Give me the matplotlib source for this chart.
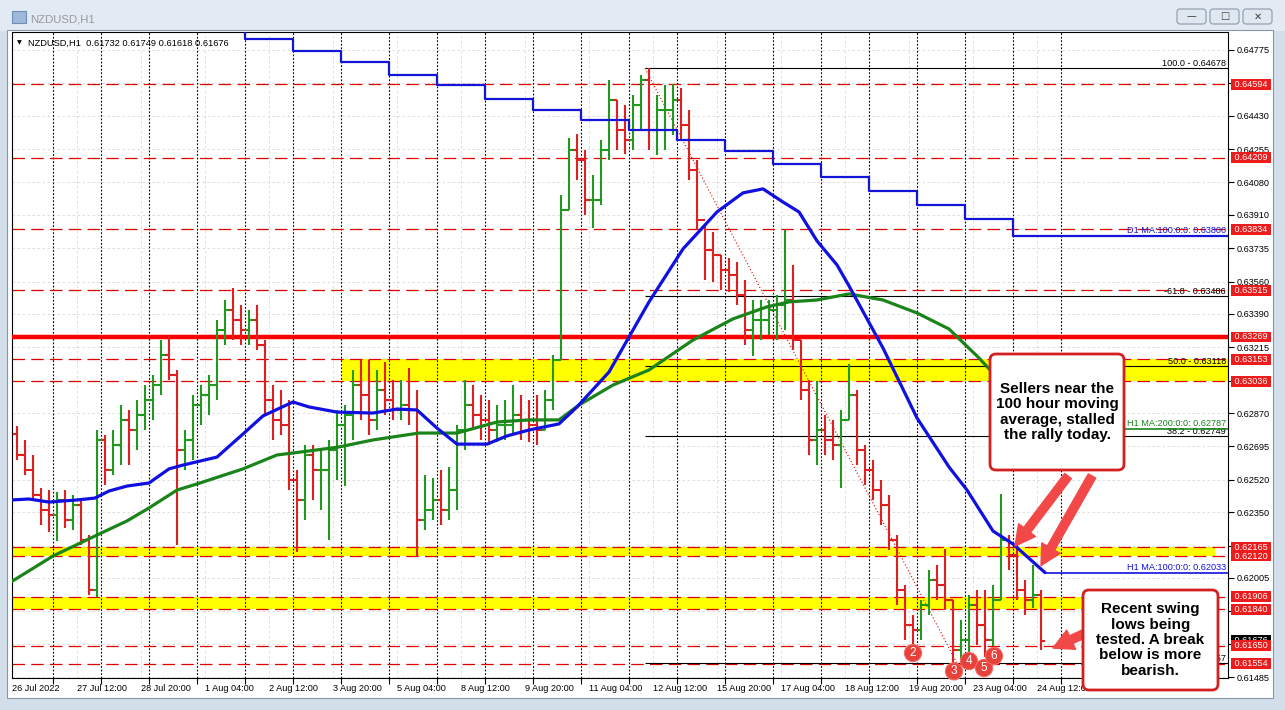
import numpy as np
import matplotlib
matplotlib.use("Agg")
import matplotlib.pyplot as plt
import matplotlib.transforms as mtransforms
from matplotlib.patches import FancyBboxPatch, Rectangle
from matplotlib.collections import LineCollection

plt.rcParams['font.family'] = ['Liberation Sans', 'DejaVu Sans']

# ---------------- data ----------------
# time axis: trading hours counted from 26 Jul 2022 00:00 (weekends skipped)
symbol_title = "NZDUSD,H1"
last_bar = [0.61732, 0.61749, 0.61618, 0.61676]

bar_start_hours = list(range(4, 520, 4))          # 4-hour bars
first_open = 0.62760
highs = [0.62802, 0.62729, 0.62650, 0.62477, 0.62466, 0.62456, 0.62466, 0.62440, 0.62414, 0.62230,
         0.62781, 0.62755, 0.62781, 0.62912, 0.62886, 0.62939, 0.63017, 0.63070, 0.63253, 0.63275,
         0.63096, 0.62781, 0.62965, 0.63017, 0.63070, 0.63358, 0.63463, 0.63526, 0.63437, 0.63411,
         0.63437, 0.63253, 0.63017, 0.62991, 0.62939, 0.62571, 0.62702, 0.62702, 0.62676, 0.62729,
         0.62886, 0.62912, 0.63096, 0.63148, 0.63148, 0.63096, 0.63138, 0.63043, 0.63043, 0.63106,
         0.62991, 0.62545, 0.62529, 0.62571, 0.62587, 0.62807, 0.63043, 0.63017, 0.62965, 0.62939,
         0.62912, 0.62939, 0.63017, 0.62965, 0.62939, 0.62965, 0.62991, 0.63175, 0.64014, 0.64313,
         0.64334, 0.64250, 0.64119, 0.64303, 0.64618, 0.64513, 0.64486, 0.64539, 0.64644, 0.64678,
         0.64539, 0.64591, 0.64597, 0.64576, 0.64460, 0.64198, 0.63857, 0.63820, 0.63699, 0.63684,
         0.63663, 0.63568, 0.63463, 0.63463, 0.63463, 0.63490, 0.63831, 0.63647, 0.63253, 0.63043,
         0.63038, 0.62860, 0.62834, 0.62886, 0.63127, 0.62991, 0.62702, 0.62624, 0.62519, 0.62440,
         0.62230, 0.61968, 0.61810, 0.61889, 0.62047, 0.62073, 0.62157, 0.61889, 0.61784, 0.61915,
         0.61942, 0.61942, 0.61968, 0.62445, 0.62230, 0.62204, 0.61994, 0.62073, 0.61942]
lows = [0.62624, 0.62545, 0.62414, 0.62283, 0.62246, 0.62199, 0.62267, 0.62257, 0.62178, 0.61915,
        0.61905, 0.62493, 0.62545, 0.62597, 0.62597, 0.62676, 0.62781, 0.62834, 0.62965, 0.63043,
        0.62178, 0.62571, 0.62624, 0.62807, 0.62860, 0.62939, 0.63227, 0.63253, 0.63227, 0.63227,
        0.63201, 0.62860, 0.62729, 0.62755, 0.62466, 0.62141, 0.62309, 0.62414, 0.62361, 0.62204,
        0.62519, 0.62487, 0.62729, 0.62834, 0.62755, 0.62781, 0.62860, 0.62834, 0.62834, 0.62807,
        0.62120, 0.62257, 0.62309, 0.62283, 0.62309, 0.62361, 0.62676, 0.62781, 0.62729, 0.62702,
        0.62718, 0.62729, 0.62755, 0.62729, 0.62718, 0.62702, 0.62781, 0.62886, 0.63148, 0.63935,
        0.64093, 0.63909, 0.63841, 0.63962, 0.64198, 0.64250, 0.64229, 0.64250, 0.64355, 0.64250,
        0.64224, 0.64250, 0.64329, 0.64303, 0.64093, 0.63831, 0.63568, 0.63558, 0.63516, 0.63505,
        0.63437, 0.63227, 0.63169, 0.63253, 0.63280, 0.63253, 0.63306, 0.63201, 0.62939, 0.62650,
        0.62597, 0.62650, 0.62624, 0.62477, 0.62834, 0.62597, 0.62493, 0.62414, 0.62283, 0.62152,
        0.61863, 0.61679, 0.61653, 0.61679, 0.61810, 0.61889, 0.61837, 0.61557, 0.61575, 0.61595,
        0.61653, 0.61590, 0.61648, 0.61889, 0.62047, 0.61889, 0.61810, 0.61847, 0.61627]
closes = [0.62650, 0.62571, 0.62440, 0.62361, 0.62335, 0.62414, 0.62309, 0.62388, 0.62204, 0.61942,
          0.62729, 0.62571, 0.62702, 0.62834, 0.62781, 0.62860, 0.62939, 0.63017, 0.63175, 0.63070,
          0.62676, 0.62729, 0.62912, 0.62965, 0.63017, 0.63306, 0.63411, 0.63358, 0.63306, 0.63358,
          0.63227, 0.62939, 0.62834, 0.62807, 0.62519, 0.62414, 0.62650, 0.62571, 0.62571, 0.62676,
          0.62807, 0.62860, 0.63017, 0.62965, 0.62834, 0.62991, 0.62939, 0.62886, 0.62912, 0.62886,
          0.62309, 0.62361, 0.62414, 0.62361, 0.62466, 0.62781, 0.62912, 0.62860, 0.62834, 0.62781,
          0.62807, 0.62807, 0.62860, 0.62834, 0.62807, 0.62781, 0.62939, 0.63148, 0.63935, 0.64250,
          0.64198, 0.63988, 0.63988, 0.64250, 0.64513, 0.64355, 0.64303, 0.64486, 0.64618, 0.64355,
          0.64460, 0.64460, 0.64513, 0.64381, 0.64145, 0.63883, 0.63726, 0.63699, 0.63621, 0.63594,
          0.63490, 0.63306, 0.63358, 0.63358, 0.63411, 0.63437, 0.63463, 0.63253, 0.62991, 0.62729,
          0.62781, 0.62729, 0.62702, 0.62834, 0.62965, 0.62676, 0.62571, 0.62466, 0.62388, 0.62204,
          0.61942, 0.61758, 0.61732, 0.61863, 0.61994, 0.61968, 0.61889, 0.61627, 0.61679, 0.61863,
          0.61758, 0.61679, 0.61889, 0.62204, 0.62125, 0.61942, 0.61889, 0.61915, 0.61676]

# hourly moving averages (read at sample hours)
ma100_hours = [3, 12, 22, 36, 45, 52, 61, 72, 82, 89, 106, 119, 129, 144, 152, 166, 184, 196, 206, 216,
               226, 241, 251, 262, 277, 286, 302, 312, 322, 339, 356, 369, 379, 389, 397, 406, 416, 422,
               439, 456, 472, 481, 494, 504, 514, 520]
ma100_vals = [0.62414, 0.62419, 0.62403, 0.62414, 0.62424, 0.62461, 0.62487, 0.62503, 0.62577, 0.62597,
              0.62639, 0.62760, 0.62855, 0.62928, 0.62902, 0.62875, 0.62870, 0.62891, 0.62886, 0.62791,
              0.62707, 0.62707, 0.62750, 0.62781, 0.62813, 0.62902, 0.63085, 0.63269, 0.63453, 0.63731,
              0.63925, 0.64025, 0.64046, 0.63977, 0.63925, 0.63773, 0.63647, 0.63537, 0.63211, 0.62844,
              0.62587, 0.62466, 0.62251, 0.62183, 0.62089, 0.62033]
ma200_hours = [3, 24, 44, 61, 72, 86, 96, 119, 136, 152, 167, 184, 207, 226, 246, 262, 277, 287, 304, 322,
               344, 364, 381, 392, 406, 422, 439, 456, 472, 487, 504, 520]
ma200_vals = [0.61984, 0.62120, 0.62220, 0.62304, 0.62372, 0.62466, 0.62498, 0.62577, 0.62650, 0.62671,
              0.62692, 0.62729, 0.62765, 0.62765, 0.62823, 0.62834, 0.62834, 0.62912, 0.63017, 0.63096,
              0.63253, 0.63364, 0.63427, 0.63453, 0.63463, 0.63495, 0.63463, 0.63395, 0.63311, 0.63159,
              0.62965, 0.62787]
# daily 100 MA (one value per day, starting 1 Aug)
d1_hours = [96, 120, 144, 168, 192, 216, 240, 264, 288, 312, 336, 360, 384, 408, 432, 456, 480, 504]
d1_vals = [0.64905, 0.64833, 0.64770, 0.64712, 0.64644, 0.64591, 0.64518, 0.64460, 0.64408, 0.64355,
           0.64303, 0.64245, 0.64177, 0.64108, 0.64035, 0.63962, 0.63888, 0.63800]

day_start_hours = list(range(24, 529, 24))
time_labels = ["26 Jul 2022", "27 Jul 12:00", "28 Jul 20:00", "1 Aug 04:00", "2 Aug 12:00", "3 Aug 20:00",
               "5 Aug 04:00", "8 Aug 12:00", "9 Aug 20:00", "11 Aug 04:00", "12 Aug 12:00",
               "15 Aug 20:00", "17 Aug 04:00", "18 Aug 12:00", "19 Aug 20:00", "23 Aug 04:00",
               "24 Aug 12:00"]
time_label_hours = [3.5, 36, 68, 100, 132, 164, 196, 228, 260, 292, 324, 356, 388, 420, 452, 484, 516]

price_ticks = [0.64775, 0.64600, 0.64430, 0.64255, 0.64080, 0.63910, 0.63735, 0.63560, 0.63390, 0.63215,
               0.63040, 0.62870, 0.62695, 0.62520, 0.62350, 0.62175, 0.62005, 0.61830, 0.61660, 0.61485]
# tick labels fully covered by the level labels in the terminal
hidden_ticks = [0.64600, 0.63040, 0.62175, 0.61830, 0.61660]
level_prices = [0.64594, 0.64209, 0.63834, 0.63515, 0.63269, 0.63153, 0.63036,
                0.62165, 0.62120, 0.61906, 0.61840, 0.61650, 0.61554]
key_level = 0.63269
yellow_zones = [(0.63036, 0.63153), (0.62120, 0.62165), (0.61840, 0.61906)]

fib_high_hour, fib_high = 320, 0.64678
fib_low_hour, fib_low = 476, 0.61557
fib_names = ["100.0", "-61.8", "50.0", "38.2", "0.0"]
fib_prices = [0.64678, 0.63486, 0.63118, 0.62749, 0.61557]

swing_numbers = ["2", "3", "4", "5", "6"]
swing_hours = [454, 474, 482, 490, 494]
swing_prices = [0.61653, 0.61557, 0.61595, 0.61590, 0.61648]

note_top = "Sellers near the\n100 hour moving\naverage, stalled\nthe rally today."
note_bottom = "Recent swing\nlows being\ntested. A break\nbelow is more\nbearish."

# ---------------- figure ----------------
W, H = 1285, 710
fig = plt.figure(figsize=(W / 100, H / 100), dpi=100)
fig.patch.set_facecolor('#d3deeb')
pix = mtransforms.Affine2D().scale(1 / W, -1 / H).translate(0, 1) + fig.transFigure

# window chrome
fig.add_artist(Rectangle((0, 0), W, 31, transform=pix, fc='#e2eaf4', ec='none', zorder=-3))
fig.add_artist(Rectangle((7, 30), 1266, 668, transform=pix, fc='white', ec='#8a96a6', lw=0.8, zorder=-2))
fig.add_artist(Rectangle((12, 11), 14, 12, transform=pix, fc='#9fb8d8', ec='#6f8fb8', lw=0.8, zorder=-1))
fig.text(30 / W, 1 - 19 / H, symbol_title, fontsize=8.2, color='#9a9a9a', va='center', ha='left')
for bx, glyph in [(1177, '\u2014'), (1210, '\u25a1'), (1243, '\u2715')]:
    fig.add_artist(FancyBboxPatch((bx, 9), 29, 15, boxstyle='round,pad=0,rounding_size=3', transform=pix,
                                  fc='#dfe7f1', ec='#8d99a8', lw=0.8, zorder=-1))
    fig.text((bx + 14.5) / W, 1 - 16.5 / H, glyph, fontsize=7, color='#404040', ha='center', va='center',
             family='DejaVu Sans')

ax = fig.add_axes([12 / W, (H - 678) / H, 1216 / W, (678 - 32) / H])
ax.set_facecolor('white')
x_min, x_max = 3.5, 611.5
ax.set_xlim(x_min, x_max)
ax.set_ylim(0.61480, 0.64869)
for s in ax.spines.values():
    s.set_color('black')
    s.set_linewidth(0.8)

# grid
for p in price_ticks:
    ax.axhline(p, color='#d8d8d8', lw=0.6, dashes=(3, 3), zorder=0.5)
for hx in time_label_hours[1:]:
    ax.axvline(hx, color='#d8d8d8', lw=0.6, dashes=(3, 3), zorder=0.5)

# period separators
for hx in day_start_hours:
    ax.axvline(hx, color='black', lw=0.8, dashes=(1.6, 1.6), zorder=1.5)

# yellow zones
ax.fill_between([168.5, x_max], yellow_zones[0][0], yellow_zones[0][1], color='#ffff00', lw=0, zorder=1)
for lo, hi in yellow_zones[1:]:
    ax.fill_between([x_min, 605], lo, hi, color='#ffff00', lw=0, zorder=1)

# horizontal levels
for p in level_prices:
    if p == key_level:
        ax.axhline(p, color='#ff0000', lw=3.2, zorder=2.6)
    else:
        ax.axhline(p, color='#e00000', lw=0.9, dashes=(10, 5), zorder=2.2)

# fibonacci
ax.hlines(fib_prices, fib_high_hour, x_max, color='black', lw=0.8, zorder=2.3)
ax.plot([fib_high_hour, fib_low_hour], [fib_high, fib_low], color='#e00000', lw=0.8, ls=(0, (1, 2)), zorder=2.3)
for name, p in zip(fib_names, fib_prices):
    ax.text(x_max - 1, p, f"{name} - {p:.5f}", fontsize=6.6, ha='right', va='bottom', color='black', zorder=2.4)

# price bars (OHLC)
opens = [first_open] + closes[:-1]
segs, cols = [], []
for h0, o, hi, lo, c in zip(bar_start_hours, opens, highs, lows, closes):
    xc = h0 + 2
    col = '#1f9a1f' if c >= o else '#e02020'
    segs += [[(xc, lo), (xc, hi)], [(xc - 1.8, o), (xc, o)], [(xc, c), (xc + 1.8, c)]]
    cols += [col] * 3
ax.add_collection(LineCollection(segs, colors=cols, linewidths=1.5, zorder=3))

# moving averages
ax.step(d1_hours + [x_max], d1_vals + [d1_vals[-1]], where='post', color='#1414d8', lw=1.6, zorder=4)
ax.plot(ma200_hours, ma200_vals, color='#1a841a', lw=2.3, zorder=4, solid_capstyle='round')
ax.plot(ma100_hours, ma100_vals, color='#1010e0', lw=2.3, zorder=4.1, solid_capstyle='round')
ax.hlines(ma200_vals[-1], ma200_hours[-1], x_max, color='#1a841a', lw=1.2, zorder=4)
ax.hlines(ma100_vals[-1], ma100_hours[-1], x_max, color='#1010e0', lw=1.2, zorder=4)
ax.text(x_max - 1, d1_vals[-1] + 0.00003, f"D1 MA:100:0:0: {d1_vals[-1]:.5f}", fontsize=6.6, color='#1414d8',
        ha='right', va='bottom', zorder=4.2)
ax.text(x_max - 1, ma200_vals[-1] + 0.00003, f"H1 MA:200:0:0: {ma200_vals[-1]:.5f}", fontsize=6.6,
        color='#1a841a', ha='right', va='bottom', zorder=2.35)
ax.text(x_max - 1, ma100_vals[-1] + 0.00003, f"H1 MA:100:0:0: {ma100_vals[-1]:.5f}", fontsize=6.6,
        color='#1010e0', ha='right', va='bottom', zorder=4.2)

# header
ax.text(5 / 1216, 1 - 11 / 646, "\u25bc", transform=ax.transAxes, fontsize=4.5, va='center', ha='left',
        family='DejaVu Sans')
ax.text(16 / 1216, 1 - 11 / 646, f"{symbol_title}  " + " ".join(f"{v:.5f}" for v in last_bar),
        transform=ax.transAxes, fontsize=6.7, va='center', ha='left', zorder=6)

# axes ticks
ax.yaxis.tick_right()
ax.set_yticks(price_ticks)
ax.set_yticklabels(["" if p in hidden_ticks else f"{p:.5f}" for p in price_ticks])
ax.tick_params(axis='y', direction='out', length=4, width=0.8, pad=2, labelsize=6.6, colors='black')
ax.set_xticks(day_start_hours)
ax.set_xticklabels([])
ax.tick_params(axis='x', direction='out', length=4, width=0.8)
xl_trans = mtransforms.blended_transform_factory(ax.transData, ax.transAxes)
for lab, hx in zip(time_labels, time_label_hours):
    ax.text(hx, -6 / 646, lab, transform=xl_trans, fontsize=6.6, ha='left', va='top', clip_on=False)

# price labels on the right axis
yl_trans = mtransforms.blended_transform_factory(ax.transAxes, ax.transData)
lab_x = 1 + 4 / 1216
ax.text(lab_x, last_bar[3], f" {last_bar[3]:.5f} ", transform=yl_trans, fontsize=6.6, color='white',
        ha='left', va='center', clip_on=False, zorder=7,
        bbox=dict(boxstyle='square,pad=0.1', fc='black', ec='none'))
for p in level_prices:
    ax.text(lab_x, p, f" {p:.5f} ", transform=yl_trans, fontsize=6.6, color='white', ha='left',
            va='center', clip_on=False, zorder=8,
            bbox=dict(boxstyle='square,pad=0.1', fc='#ec1c1c', ec='none'))

# swing low markers
for n, hx, p, off in zip(swing_numbers, swing_hours, swing_prices,
                         [(0, -8), (1, -8), (0, -5), (-1, -11), (1, -10)]):
    ax.annotate(n, xy=(hx, p), xytext=off, textcoords='offset pixels', ha='center', va='center',
                fontsize=8.5, color='white', zorder=9,
                bbox=dict(boxstyle='circle,pad=0.22', fc='#e8413b', ec='#f26b66', lw=0.8))

# annotation boxes and arrows
for (x0, y0, w, h), txt in [((990, 354, 134, 116), note_top), ((1083, 590, 135, 100), note_bottom)]:
    fig.add_artist(FancyBboxPatch((x0, y0), w, h, boxstyle='round,pad=0,rounding_size=6', transform=pix,
                                  fc='white', ec='#d42020', lw=2.0, zorder=10))
    fig.text((x0 + w / 2) / W, 1 - (y0 + h / 2) / H, txt, fontsize=11, fontweight='bold', ha='center',
             va='center', linespacing=1.12, color='black', zorder=11)

arrow_kw = dict(arrowstyle='simple,head_length=0.9,head_width=0.95,tail_width=0.38', fc='#f24848',
                ec='#f24848', shrinkA=0, shrinkB=0, mutation_scale=16)
for tip_h, tip_p, tail in [(505, 0.62172, (1068, 476)), (518, 0.62070, (1092, 476)),
                           (524, 0.61637, (1090, 631))]:
    ann = ax.annotate('', xy=(tip_h, tip_p), xycoords='data', xytext=tail, textcoords=pix,
                      arrowprops=arrow_kw, annotation_clip=False)
    ann.set_zorder(9.5)

fig.savefig('out.png', dpi=100, facecolor=fig.get_facecolor())
